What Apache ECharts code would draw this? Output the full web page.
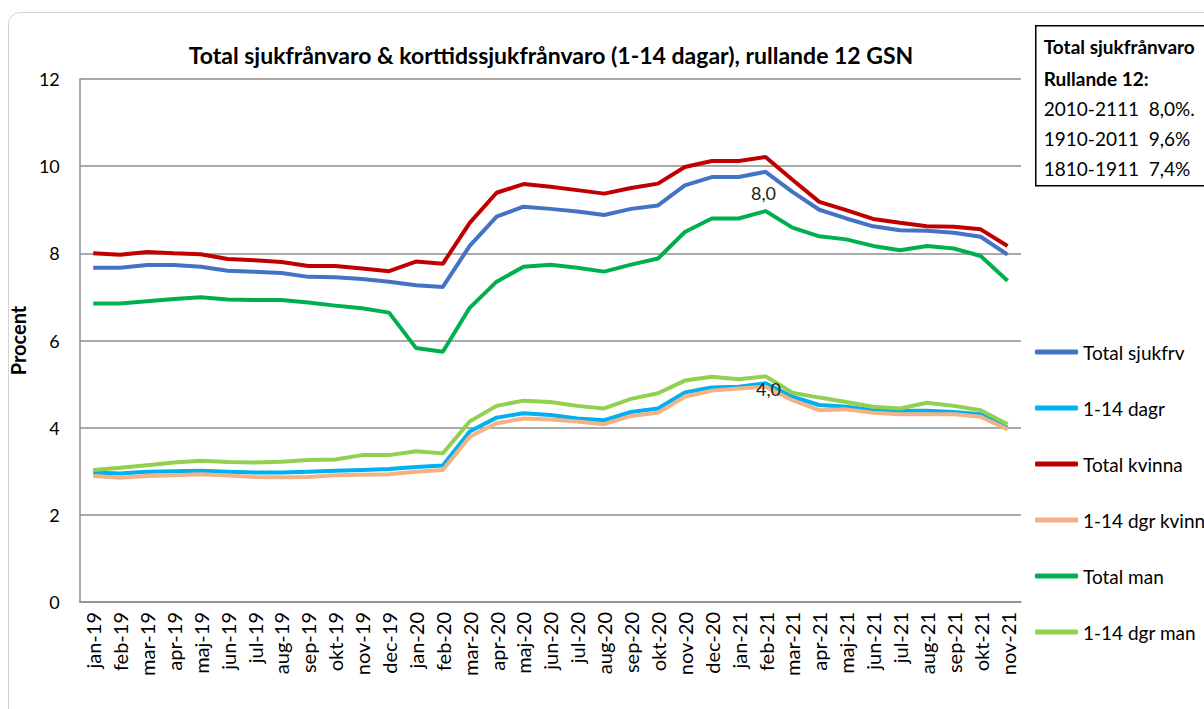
<!DOCTYPE html>
<html>
<head>
<meta charset="utf-8">
<script src="https://cdn.jsdelivr.net/npm/echarts@6/dist/echarts.min.js"></script>
<style>
  html, body { margin: 0; padding: 0; background: #fff; overflow: hidden; }
  .frame {
    position: absolute; left: 8px; top: 12px; width: 1260px; height: 740px;
    border: 1px solid #d4d4d4; border-radius: 12px;
  }
  #chart { position: absolute; left: 0; top: 0; width: 1204px; height: 709px; }
</style>
</head>
<body>
<div class="frame"></div>
<div id="chart"></div>
<script>
  const months = ['jan-19','feb-19','mar-19','apr-19','maj-19','jun-19','jul-19','aug-19','sep-19','okt-19','nov-19','dec-19',
    'jan-20','feb-20','mar-20','apr-20','maj-20','jun-20','jul-20','aug-20','sep-20','okt-20','nov-20','dec-20',
    'jan-21','feb-21','mar-21','apr-21','maj-21','jun-21','jul-21','aug-21','sep-21','okt-21','nov-21'];

  const totalSjukfrv = [7.67,7.67,7.73,7.73,7.69,7.60,7.58,7.55,7.46,7.45,7.41,7.35,
    7.27,7.23,8.17,8.84,9.07,9.02,8.96,8.88,9.02,9.10,9.56,9.75,
    9.75,9.87,9.41,9.00,8.80,8.62,8.53,8.52,8.47,8.38,7.97];
  const dagr114 = [2.97,2.95,2.99,3.00,3.01,2.99,2.97,2.97,2.99,3.01,3.03,3.05,
    3.10,3.13,3.91,4.23,4.33,4.29,4.21,4.17,4.36,4.44,4.81,4.92,
    4.94,5.02,4.71,4.52,4.48,4.40,4.39,4.39,4.36,4.31,4.00];
  const totalKvinna = [8.00,7.97,8.03,8.00,7.98,7.87,7.84,7.80,7.71,7.71,7.65,7.59,
    7.81,7.76,8.70,9.39,9.59,9.53,9.45,9.37,9.50,9.60,9.98,10.12,
    10.12,10.21,9.69,9.18,8.99,8.79,8.70,8.62,8.61,8.55,8.17];
  const dgrKvinna = [2.89,2.85,2.89,2.91,2.93,2.90,2.87,2.86,2.87,2.91,2.92,2.93,
    2.99,3.03,3.79,4.10,4.21,4.19,4.14,4.08,4.27,4.34,4.71,4.85,
    4.90,4.94,4.63,4.40,4.42,4.34,4.31,4.31,4.31,4.25,3.96];
  const totalMan = [6.85,6.85,6.90,6.95,6.99,6.94,6.93,6.93,6.87,6.80,6.74,6.64,
    5.83,5.74,6.75,7.35,7.69,7.74,7.67,7.58,7.74,7.88,8.49,8.80,
    8.80,8.97,8.59,8.39,8.32,8.17,8.07,8.17,8.11,7.94,7.37];
  const dgrMan = [3.03,3.08,3.14,3.20,3.24,3.21,3.20,3.22,3.26,3.27,3.37,3.37,
    3.46,3.41,4.14,4.50,4.62,4.59,4.50,4.44,4.66,4.79,5.08,5.17,
    5.11,5.18,4.80,4.69,4.59,4.48,4.44,4.57,4.50,4.40,4.08];

  const seriesNames = ['Total sjukfrv','1-14 dagr','Total kvinna','1-14 dgr kvinna','Total man','1-14 dgr man'];
  const seriesColors = ['#4472C4','#00B0F0','#C00000','#F4B183','#00B050','#92D050'];
  const seriesData = [totalSjukfrv, dagr114, totalKvinna, dgrKvinna, totalMan, dgrMan];

  const boxLines = ['Total sjukfrånvaro','Rullande 12:','2010-2111  8,0%.','1910-2011  9,6%','1810-1911  7,4%'];

  const font = 'Lato, "Open Sans", sans-serif';
  const lblIdx = 25; // Excel put the last-value labels at feb-21

  // label for the last value of a series, placed at feb-21 like in the original
  function lastLabel(arr, offset) {
    return {
      coord: [months[lblIdx], arr[lblIdx]],
      label: {
        show: true,
        position: 'inside',
        formatter: arr[arr.length - 1].toFixed(1).replace('.', ','),
        color: '#222',
        fontSize: 18,
        fontFamily: font,
        offset: offset
      }
    };
  }

  let myChart = echarts.init(document.getElementById('chart'), null, {renderer: 'svg'});

  let series = seriesNames.map(function (name, i) {
    return {
      name: name,
      type: 'line',
      symbol: 'none',
      data: seriesData[i],
      lineStyle: { width: 4, color: seriesColors[i] },
      itemStyle: { color: seriesColors[i] }
    };
  });
  // labels sit above all lines
  series[series.length - 1].markPoint = {
    z: 20,
    symbol: 'circle',
    symbolSize: 1,
    silent: true,
    itemStyle: { color: 'rgba(0,0,0,0)' },
    data: [lastLabel(totalSjukfrv, [-2, 21]), lastLabel(dagr114, [3, 6])]
  };

  let option = {
    animation: false,
    backgroundColor: 'transparent',
    title: {
      text: 'Total sjukfrånvaro & korttidssjukfrånvaro (1-14 dagar), rullande 12 GSN',
      left: 546,
      textAlign: 'center',
      top: 38,
      textStyle: { fontSize: 23, fontWeight: 'bold', color: '#000', fontFamily: font }
    },
    legend: {
      orient: 'vertical',
      left: 1035,
      top: 342,
      padding: 0,
      itemGap: 36,
      itemWidth: 43,
      itemHeight: 5,
      icon: 'roundRect',
      data: seriesNames,
      textStyle: { fontSize: 19, lineHeight: 20, color: '#000', fontFamily: font }
    },
    grid: { left: 75, right: 183, top: 79, bottom: 107 },
    xAxis: {
      type: 'category',
      data: months,
      axisTick: { show: false },
      axisLine: { lineStyle: { color: '#8c8c8c', width: 1.5 } },
      axisLabel: { rotate: 90, fontSize: 20, color: '#000', fontFamily: font, margin: 10, interval: 0 }
    },
    yAxis: {
      type: 'value',
      name: 'Procent',
      nameLocation: 'middle',
      nameGap: 33,
      nameTextStyle: { fontSize: 20, fontWeight: 'bold', color: '#000', fontFamily: font },
      min: 0,
      max: 12,
      interval: 2,
      axisLine: { show: true, lineStyle: { color: '#8c8c8c', width: 1.5 } },
      axisTick: { show: false },
      axisLabel: { fontSize: 18, color: '#000', fontFamily: font, margin: 20 },
      splitLine: { lineStyle: { color: '#8c8c8c', width: 1.5 } }
    },
    graphic: [{
      type: 'group',
      left: 1035,
      top: 25,
      children: [
        { type: 'rect', shape: { x: 0, y: 0, width: 200, height: 160 },
          style: { fill: '#fff', stroke: '#000', lineWidth: 1.5 } }
      ].concat(boxLines.map(function (t, k) {
        return {
          type: 'text',
          x: 8,
          y: k === 0 ? 21 : 53 + (k - 1) * 30,
          style: {
            text: t, fontSize: 19, fontFamily: font, verticalAlign: 'middle',
            fontWeight: k < 2 ? 'bold' : 'normal', fill: '#000'
          }
        };
      }))
    }],
    series: series
  };

  myChart.setOption(option);
  window.addEventListener('resize', function () { myChart.resize() });
</script>
</body>
</html>
